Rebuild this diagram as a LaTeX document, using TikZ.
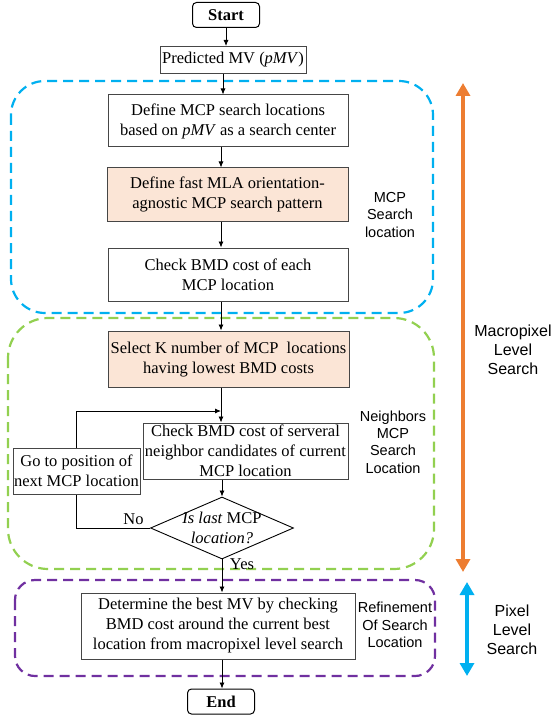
\documentclass[tikz,border=0pt]{standalone}
\usepackage{fontspec}
\setmainfont{Liberation Serif}
\setsansfont{Liberation Sans}
\usetikzlibrary{positioning,arrows.meta,calc,shapes.geometric}

\definecolor{peach}{RGB}{251,229,214}
\definecolor{skyblue}{RGB}{0,176,240}
\definecolor{leafgreen}{RGB}{146,208,80}
\definecolor{royalpurple}{RGB}{112,48,160}
\definecolor{burntorange}{RGB}{237,125,49}
\definecolor{boxgray}{RGB}{70,70,70}

\begin{document}
\begin{tikzpicture}[x=1pt, y=-1pt,
    font=\fontsize{16.5}{20}\selectfont,
    stagebox/.style={draw=boxgray, line width=1pt, align=center, inner xsep=1pt,
        inner ysep=0pt, fill=white},
    peachbox/.style={stagebox, fill=peach},
    terminal/.style={draw=black, line width=1pt, rounded corners=4pt,
        font=\fontsize{16.5}{20}\selectfont\bfseries, minimum width=67pt,
        minimum height=25pt, inner sep=1pt},
    decision/.style={draw=black, line width=0.9pt, diamond, inner sep=0pt,
        minimum width=143pt, minimum height=62pt},
    arrow/.style={-{Latex[length=6pt,width=5pt]}, line width=0.8pt},
    link/.style={line width=0.8pt},
    region/.style={dash pattern=on 10pt off 6pt, line width=2.2pt},
    sidelabel/.style={font=\sffamily\fontsize{14.5}{17.3}\selectfont, align=center},
    levellabel/.style={font=\sffamily\fontsize{16}{19}\selectfont, align=center},
    levelarrow/.style={{Triangle[width=14pt,length=13pt]}-{Triangle[width=14pt,length=13pt]},
        line width=4pt}
]
\useasboundingbox (0,0) rectangle (554,719);

% dashed search regions
\draw[region, skyblue, rounded corners=34pt] (11,81) rectangle (433,313);
\draw[region, leafgreen, rounded corners=40pt] (8,318) rectangle (434,569);
\draw[region, royalpurple, rounded corners=20pt] (15,580) rectangle (435,676);

% flow column
\coordinate (spine) at (221,0);
\node[terminal] (start) at (226,15) {Start};
\node[stagebox, minimum width=146pt, minimum height=27pt] (pmv) at (233,60)
    {Predicted MV (\textit{pMV})};
\node[stagebox, minimum width=240pt, minimum height=52pt] (def) at (228,121)
    {Define MCP search locations\\based on \textit{pMV} as a search center};
\node[peachbox, minimum width=241pt, minimum height=53pt] (fast) at (227.5,194.5)
    {Define fast MLA orientation-\\agnostic MCP search pattern};
\node[stagebox, minimum width=240pt, minimum height=53pt] (each) at (228,274.5)
    {Check BMD cost of each\\MCP location};
\node[peachbox, minimum width=241pt, minimum height=56pt] (sel) at (228.5,359)
    {Select K number of MCP\ \ locations\\having lowest BMD costs};
\node[stagebox, minimum width=205pt, minimum height=56pt] (nbr) at (245.5,451)
    {Check BMD cost of serveral\\neighbor candidates of current\\MCP location};
\node[stagebox, minimum width=127pt, minimum height=46pt] (goto) at (76.5,471)
    {Go to position of\\next MCP location};
\node[decision, label={[align=center]center:\textit{Is last} MCP\\\textit{location?}}]
    (last) at (222,528) {};
\node[stagebox, minimum width=274pt, minimum height=66pt] (best) at (218,626)
    {Determine the best MV by checking\\BMD cost around the current best\\location from macropixel level search};
\node[terminal] (stop) at (221,701.5) {End};

\draw[arrow] (start.south) -- (start.south |- pmv.north);
\draw[arrow] ($(pmv.south -| spine)+(2,0)$) -- ($(def.north -| spine)+(2,0)$);
\draw[arrow] (def.south -| spine) -- (fast.north -| spine);
\draw[arrow] (fast.south -| spine) -- (each.north -| spine);
\draw[arrow] (each.south -| spine) -- (sel.north -| spine);
\draw[arrow] (sel.south -| spine) -- (nbr.north -| spine);
\draw[arrow] (nbr.south -| last) -- (last.north);
\draw[arrow] (last.south) -- (last.south |- best.north);
\draw[arrow] (best.south -| last) -- (stop.north -| last);

% loop back to the next location
\coordinate (loopjoin) at (221,411);
\draw[arrow] (goto.north) |- (loopjoin);
\draw[link] (last.west) -| (goto.south);
\node[above left=0pt and 3pt of last.west] (nolbl) {No};
\node (yeslbl) at (242,564) {Yes};

% region labels
\node[sidelabel] (mcplbl) at (390,215) {MCP\\Search\\location};
\node[sidelabel] (nbrlbl) at (393,442) {Neighbors\\MCP\\Search\\Location};
\node[sidelabel] (reflbl) at (395,625) {Refinement\\Of Search\\Location};

% level arrows
\coordinate (macrotop) at (463,83);
\coordinate (macrobot) at (463,572);
\coordinate (pixtop) at (467,582);
\coordinate (pixbot) at (467,676);
\draw[levelarrow, burntorange] (macrotop) -- (macrobot);
\draw[levelarrow, skyblue] (pixtop) -- (pixbot);
\node[levellabel] (macrolbl) at (513,350) {Macropixel\\Level\\Search};
\node[levellabel] (pixlbl) at (512,630) {Pixel\\Level\\Search};
\end{tikzpicture}
\end{document}
